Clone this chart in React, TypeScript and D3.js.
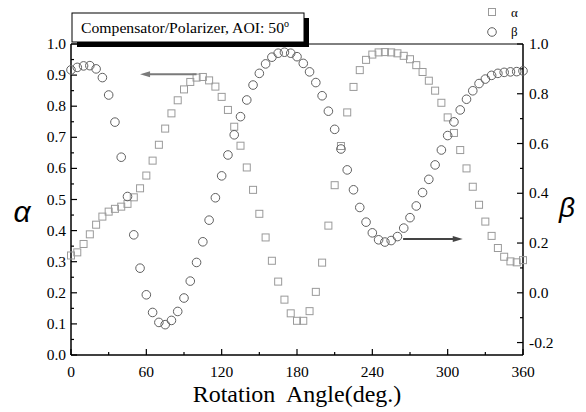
import React from "react";
import * as d3 from "d3";

const width = 586;
const height = 412;
const margin = { top: 44, right: 63, bottom: 57, left: 71 };

// rotation angles, every 5 deg
const angles = d3.range(0, 361, 5);

const alphaValues = [
  0.32, 0.33, 0.357, 0.388, 0.419, 0.445, 0.461, 0.47, 0.477, 0.486,
  0.507, 0.536, 0.577, 0.625, 0.676, 0.728, 0.777, 0.819, 0.854, 0.878,
  0.892, 0.894, 0.883, 0.863, 0.83, 0.788, 0.734, 0.673, 0.603, 0.531,
  0.454, 0.378, 0.303, 0.236, 0.178, 0.134, 0.11, 0.11, 0.141, 0.203,
  0.297, 0.416, 0.546, 0.672, 0.78, 0.862, 0.916, 0.949, 0.966, 0.973,
  0.974, 0.973, 0.97, 0.962, 0.951, 0.932, 0.91, 0.882, 0.85, 0.811,
  0.764, 0.714, 0.659, 0.6, 0.541, 0.483, 0.429, 0.383, 0.344, 0.316,
  0.301, 0.298, 0.305
];

const betaValues = [
  0.896, 0.906, 0.912, 0.913, 0.9, 0.865, 0.795, 0.686, 0.545, 0.387,
  0.233, 0.099, -0.008, -0.079, -0.119, -0.128, -0.111, -0.075, -0.021, 0.047,
  0.122, 0.205, 0.292, 0.382, 0.47, 0.554, 0.635, 0.708, 0.775, 0.835,
  0.882, 0.92, 0.947, 0.963, 0.967, 0.963, 0.949, 0.922, 0.888, 0.845,
  0.792, 0.73, 0.657, 0.578, 0.494, 0.414, 0.343, 0.284, 0.241, 0.213,
  0.204, 0.21, 0.226, 0.26, 0.302, 0.349, 0.403, 0.456, 0.514, 0.574,
  0.632, 0.687, 0.735, 0.778, 0.812, 0.841, 0.859, 0.874, 0.882, 0.886,
  0.888, 0.889, 0.892
];

const xTicks = [0, 60, 120, 180, 240, 300, 360];
const leftTicks = [0, 0.1, 0.2, 0.3, 0.4, 0.5, 0.6, 0.7, 0.8, 0.9, 1.0];
const rightTicks = [-0.2, 0, 0.2, 0.4, 0.6, 0.8, 1.0];

const title = "Compensator/Polarizer, AOI: 50";
const xTitle = "Rotation  Angle(deg.)";

const serif = "'Liberation Serif', 'Times New Roman', serif";
const sqColor = "#9a9a9a";
const ciColor = "#606060";

const x = d3.scaleLinear().domain([0, 360]).range([margin.left, width - margin.right]);
const yL = d3.scaleLinear().domain([0, 1]).range([height - margin.bottom, margin.top]);
const yR = d3.scaleLinear().domain([-0.25, 1]).range([height - margin.bottom, margin.top]);

const arrow = (x1: number, x2: number, y: number, color: string) => {
  const dir = x2 > x1 ? 1 : -1;
  const d = `M${x2},${y} L${x2 - dir * 10},${y - 3} L${x2 - dir * 10},${y + 3} Z`;
  return (
    <g>
      <line x1={x1} x2={x2 - dir * 8} y1={y} y2={y} stroke={color} strokeWidth={2} />
      <path d={d} fill={color} />
    </g>
  );
};

export default function App() {
  const bottom = height - margin.bottom;
  const left = margin.left;
  const right = width - margin.right;
  const top = margin.top;

  return (
    <svg width={width} height={height} style={{ position: "absolute", left: 0, top: 0, background: "#fff" }}>
      {/* frame */}
      <line x1={left} x2={right} y1={top} y2={top} stroke="#000" strokeWidth={1} />
      <line x1={left} x2={right} y1={bottom} y2={bottom} stroke="#000" strokeWidth={1.5} />
      <line x1={left} x2={left} y1={top} y2={bottom} stroke="#000" strokeWidth={1.5} />
      <line x1={right} x2={right} y1={top} y2={bottom} stroke="#000" strokeWidth={1.5} />

      {/* x ticks */}
      {d3.range(0, 361, 30).map(t => (
        <line key={"xt" + t} x1={x(t)} x2={x(t)} y1={bottom} y2={bottom - (t % 60 === 0 ? 6 : 3)} stroke="#000" strokeWidth={1.2} />
      ))}
      {xTicks.map(t => (
        <text key={"xl" + t} x={x(t)} y={bottom + 22} textAnchor="middle" fontFamily={serif} fontSize={15.5}>{t}</text>
      ))}

      {/* left ticks */}
      {d3.range(0, 21).map(i => (
        <line key={"lt" + i} x1={left} x2={left + (i % 2 === 0 ? 6 : 3)} y1={yL(i * 0.05)} y2={yL(i * 0.05)} stroke="#000" strokeWidth={1.2} />
      ))}
      {leftTicks.map(t => (
        <text key={"ll" + t} x={left - 5} y={yL(t) + 5} textAnchor="end" fontFamily={serif} fontSize={15.5}>{t.toFixed(1)}</text>
      ))}

      {/* right ticks */}
      {d3.range(-2, 11).map(i => (
        <line key={"rt" + i} x1={right} x2={right - (i % 2 === 0 ? 6 : 3)} y1={yR(i * 0.1)} y2={yR(i * 0.1)} stroke="#000" strokeWidth={1.2} />
      ))}
      {rightTicks.map(t => (
        <text key={"rl" + t} x={right + 6} y={yR(t) + 5} textAnchor="start" fontFamily={serif} fontSize={15.5}>{t.toFixed(1)}</text>
      ))}

      {/* alpha squares */}
      {angles.map((a, i) => (
        <rect key={"a" + a} x={x(a) - 3.5} y={yL(alphaValues[i]) - 3.5} width={7} height={7} fill="none" stroke={sqColor} strokeWidth={1} />
      ))}
      {/* beta circles */}
      {angles.map((a, i) => (
        <circle key={"b" + a} cx={x(a)} cy={yR(betaValues[i])} r={4.3} fill="none" stroke={ciColor} strokeWidth={1} />
      ))}

      {/* arrows */}
      {arrow(x(100), x(55), yL(0.9026), "#7a7a7a")}
      {arrow(x(264.5), x(312), yR(0.216), "#444")}

      {/* title box */}
      <rect x={77} y={18} width={232} height={29} fill="#000" />
      <rect x={72} y={13} width={232} height={29} fill="#fff" stroke="#000" strokeWidth={1} />
      <text x={81} y={33} fontFamily={serif} fontSize={15.5}>
        <tspan textLength={203} lengthAdjust="spacingAndGlyphs">{title}</tspan>
        <tspan dy={-6} fontSize={10}>o</tspan>
      </text>

      {/* legend */}
      <rect x={488.5} y={8.5} width={7} height={7} fill="none" stroke={sqColor} strokeWidth={1} />
      <text x={511} y={17} fontFamily={serif} fontSize={13}>α</text>
      <circle cx={492} cy={32} r={4.3} fill="none" stroke={ciColor} strokeWidth={1} />
      <text x={511} y={36} fontFamily={serif} fontSize={13}>β</text>

      {/* axis titles */}
      <text x={(left + right) / 2} y={402} textAnchor="middle" fontFamily={serif} fontSize={24} style={{ whiteSpace: "pre" }}>{xTitle}</text>
      <text x={22} y={222} textAnchor="middle" fontFamily="'Liberation Sans', sans-serif" fontStyle="italic" fontSize={30}>α</text>
      <text x={567} y={217} textAnchor="middle" fontFamily="'Liberation Sans', sans-serif" fontStyle="italic" fontSize={28}>β</text>
    </svg>
  );
}
